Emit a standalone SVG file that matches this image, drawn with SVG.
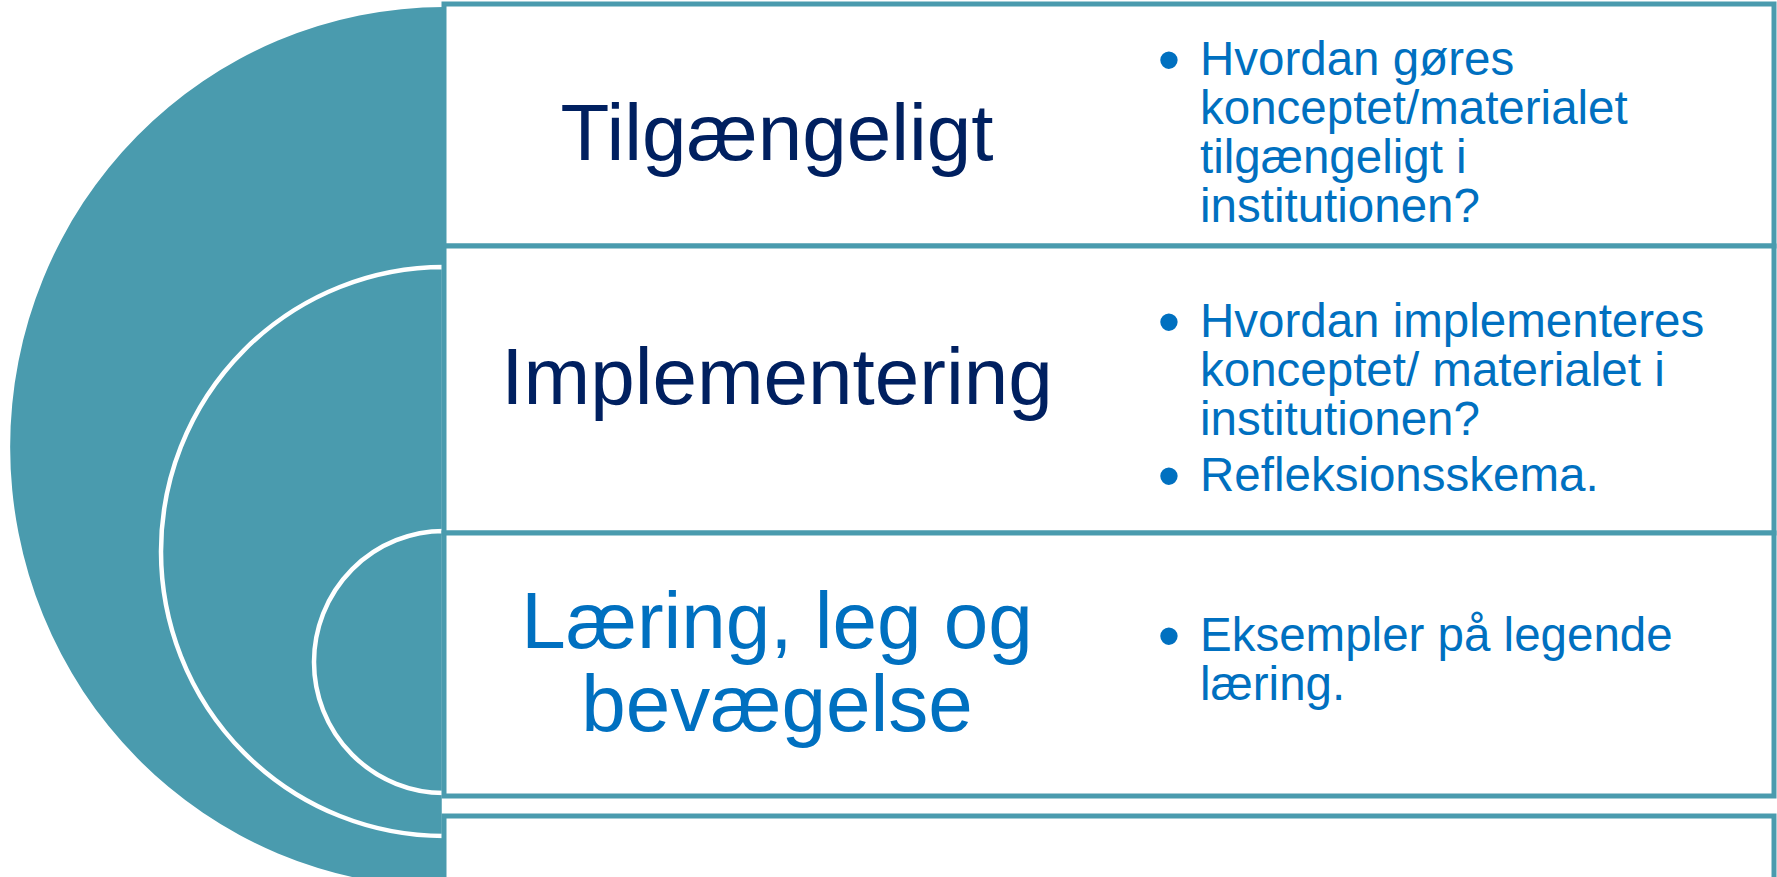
<svg xmlns="http://www.w3.org/2000/svg" width="1777" height="877" viewBox="0 0 1777 877">
<style>
.disc{fill:#4A9BAE}
.ring{fill:#4A9BAE;stroke:#FFFFFF;stroke-width:4.5}
.box{fill:#FFFFFF;stroke:#4A9BAE;stroke-width:5}
.h{font-family:"Liberation Sans",Arial,sans-serif;font-size:80px;text-anchor:middle}
.dark{fill:#002060}
.blue{fill:#0070C0}
.b{font-family:"Liberation Sans",Arial,sans-serif;font-size:47.5px;fill:#0070C0}
.dot{font-family:"Liberation Sans",Arial,sans-serif;font-size:64px;fill:#0070C0;text-anchor:middle}
</style>
<rect width="1777" height="877" fill="#FFFFFF"/>
<g id="discs">
<path class="disc" d="M444,7 A434,440 0 0 0 444,887 Z"/>
<path class="ring" d="M444,267 A283,284.5 0 0 0 444,836 Z"/>
<path class="ring" d="M444,531 A130,131 0 0 0 444,793 Z"/>
</g>
<g id="boxes">
<rect class="box" x="444" y="4" width="1330" height="242"/>
<rect class="box" x="444" y="246" width="1330" height="287"/>
<rect class="box" x="444" y="533" width="1330" height="263"/>
<rect class="box" x="444" y="816" width="1330" height="90"/>
</g>
<g id="node1">
<text class="h dark" x="777" y="160">Tilgængeligt</text>
<text class="dot" x="1169" y="82">•</text>
<text class="b" x="1200" y="75">Hvordan gøres</text>
<text class="b" x="1200" y="124">konceptet/materialet</text>
<text class="b" x="1200" y="173">tilgængeligt i</text>
<text class="b" x="1200" y="222">institutionen?</text>
</g>
<g id="node2">
<text class="h dark" x="777" y="404">Implementering</text>
<text class="dot" x="1169" y="344">•</text>
<text class="b" x="1200" y="337">Hvordan implementeres</text>
<text class="b" x="1200" y="386">konceptet/ materialet i</text>
<text class="b" x="1200" y="435">institutionen?</text>
<text class="dot" x="1169" y="498">•</text>
<text class="b" x="1200" y="491">Refleksionsskema.</text>
</g>
<g id="node3">
<text class="h blue" x="777" y="648">Læring, leg og</text>
<text class="h blue" x="777" y="731">bevægelse</text>
<text class="dot" x="1169" y="658">•</text>
<text class="b" x="1200" y="651">Eksempler på legende</text>
<text class="b" x="1200" y="700">læring.</text>
</g>
<g id="connectors"></g>
</svg>
